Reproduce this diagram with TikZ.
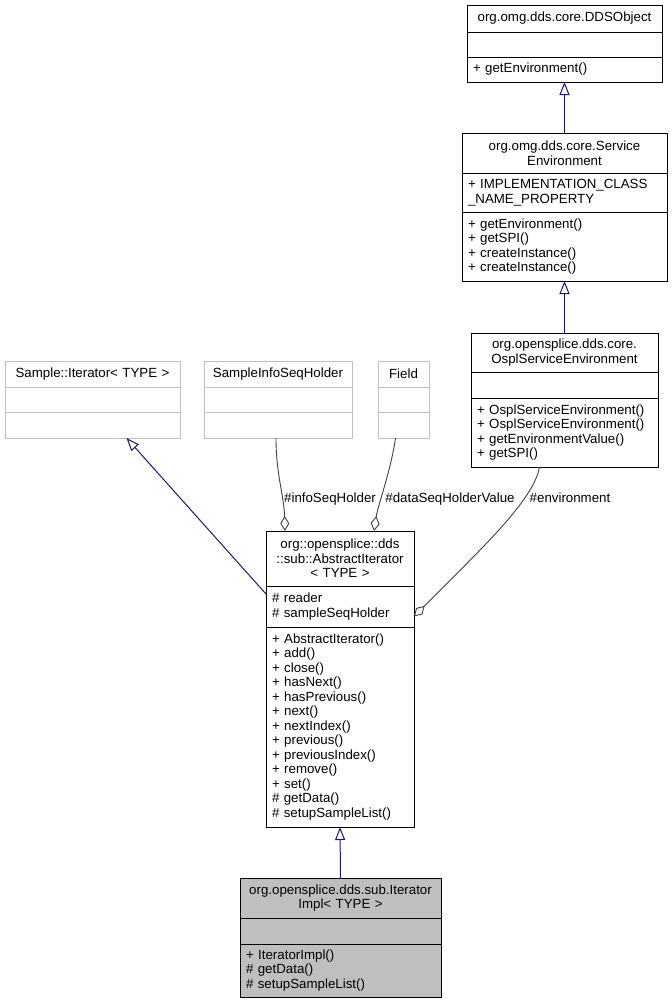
\documentclass[tikz,border=0pt]{standalone}
\usepackage{fontspec}
\setmainfont{Liberation Sans}
\usepackage{tikz}
\usetikzlibrary{arrows.meta,positioning}
\definecolor{edgeblue}{HTML}{191970}
\definecolor{boxgrey}{HTML}{BFBFBF}
\definecolor{aggrgrey}{HTML}{404040}
\tikzset{
  umlbox/.style={draw=black,line width=1pt,outer sep=0pt,inner xsep=6pt,inner ysep=0pt,anchor=north west,font=\fontsize{13.3}{14.5}\selectfont},
  umltitle/.style={umlbox,align=center},
  umlmembers/.style={umlbox,align=left},
  greybox/.style={draw=boxgrey},
  inherit/.style={draw=edgeblue,line width=1pt,-{Triangle[open,length=13pt,width=10pt]}},
  aggr/.style={draw=aggrgrey,line width=0.9pt,-{Diamond[open,length=15pt,width=9pt]}},
  lbl/.style={font=\fontsize{13.3}{14.5}\selectfont,inner sep=1pt}
}
\begin{document}
\begin{tikzpicture}[x=1pt,y=-1pt]
\useasboundingbox (0,0) rectangle (672,1004);
\node[umltitle,text width=183pt,minimum height=27pt] (ddsobjT) at (467,5) {org.omg.dds.core.DDSObject};
\node[umlbox,text width=183pt,minimum height=25pt,below=0pt of ddsobjT] (ddsobjA) {};
\node[umlmembers,text width=183pt,minimum height=25pt,below=0pt of ddsobjA] (ddsobjM) {+ getEnvironment()};

\node[umltitle,text width=193pt,minimum height=40pt] (srvenvT) at (462,133) {org.omg.dds.core.Service\\Environment};
\node[umlmembers,text width=193pt,minimum height=39pt,below=0pt of srvenvT] (srvenvA) {+ IMPLEMENTATION\_CLASS\\\_NAME\_PROPERTY};
\node[umlmembers,text width=193pt,minimum height=69pt,below=0pt of srvenvA] (srvenvM) {+ getEnvironment()\\+ getSPI()\\+ createInstance()\\+ createInstance()};

\node[umltitle,text width=175pt,minimum height=39pt] (osplenvT) at (471,333) {org.opensplice.dds.core.\\OsplServiceEnvironment};
\node[umlbox,text width=175pt,minimum height=26pt,below=0pt of osplenvT] (osplenvA) {};
\node[umlmembers,text width=175pt,minimum height=69pt,below=0pt of osplenvA] (osplenvM) {+ OsplServiceEnvironment()\\+ OsplServiceEnvironment()\\+ getEnvironmentValue()\\+ getSPI()};

\node[umltitle,greybox,text width=163pt,minimum height=26pt] (sampleitT) at (5,361) {Sample::Iterator< TYPE >};
\node[umlbox,greybox,text width=163pt,minimum height=25pt,below=0pt of sampleitT] (sampleitA) {};
\node[umlbox,greybox,text width=163pt,minimum height=26pt,below=0pt of sampleitA] (sampleitM) {};

\node[umltitle,greybox,text width=136pt,minimum height=26pt] (infoholderT) at (204,361) {SampleInfoSeqHolder};
\node[umlbox,greybox,text width=136pt,minimum height=25pt,below=0pt of infoholderT] (infoholderA) {};
\node[umlbox,greybox,text width=136pt,minimum height=26pt,below=0pt of infoholderA] (infoholderM) {};

\node[umltitle,greybox,text width=39pt,minimum height=26pt] (fieldT) at (378,361) {Field};
\node[umlbox,greybox,text width=39pt,minimum height=25pt,below=0pt of fieldT] (fieldA) {};
\node[umlbox,greybox,text width=39pt,minimum height=26pt,below=0pt of fieldA] (fieldM) {};

\node[umltitle,text width=136pt,minimum height=55pt] (absitT) at (266,531) {org::opensplice::dds\\::sub::AbstractIterator\\< TYPE >};
\node[umlmembers,text width=136pt,minimum height=41pt,below=0pt of absitT] (absitA) {\# reader\\\# sampleSeqHolder};
\node[umlmembers,text width=136pt,minimum height=200pt,below=0pt of absitA] (absitM) {+ AbstractIterator()\\+ add()\\+ close()\\+ hasNext()\\+ hasPrevious()\\+ next()\\+ nextIndex()\\+ previous()\\+ previousIndex()\\+ remove()\\+ set()\\\# getData()\\\# setupSampleList()};

\node[umltitle,fill=boxgrey,text width=189pt,minimum height=40pt] (itimplT) at (240,878) {org.opensplice.dds.sub.Iterator\\Impl< TYPE >};
\node[umlbox,fill=boxgrey,text width=189pt,minimum height=26pt,below=0pt of itimplT] (itimplA) {};
\node[umlmembers,fill=boxgrey,text width=189pt,minimum height=53pt,below=0pt of itimplA] (itimplM) {+ IteratorImpl()\\\# getData()\\\# setupSampleList()};

\draw[inherit] (srvenvT) -- (ddsobjM);
\draw[inherit] (osplenvT) -- (srvenvM);
\draw[inherit] (itimplT.north) -- (absitM.south);
\draw[inherit] ([yshift=-8pt]absitA.north west) -- ([xshift=34pt]sampleitM.south);

\draw[aggr] ([xshift=-2pt]infoholderM.south) .. controls (276,475) and (284,495) .. ([xshift=-55pt]absitT.north);
\draw[aggr] ([xshift=-8pt]fieldM.south) .. controls (391,470) and (378,505) .. ([xshift=34pt]absitT.north);
\draw[aggr] ([xshift=-25pt]osplenvM.south) .. controls (534,500) and (480,550) .. ([yshift=-10pt]absitA.east);

\node[lbl] (infolbl) at (330,499) {\#infoSeqHolder};
\node[lbl] (datalbl) at (450,499) {\#dataSeqHolderValue};
\node[lbl] (envlbl) at (570,498) {\#environment};
\end{tikzpicture}
\end{document}
